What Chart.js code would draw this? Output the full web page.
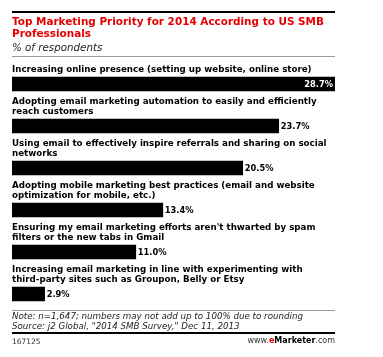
<!DOCTYPE html>
<html><head><meta charset="utf-8">
<script src="https://cdn.jsdelivr.net/npm/chart.js@4/dist/chart.umd.min.js"></script>
<style>
html,body{margin:0;padding:0;background:#fff;}
#wrap{position:relative;width:383px;height:357px;overflow:hidden;font-family:"DejaVu Sans",sans-serif;}
#c{position:absolute;left:0;top:0;}
.rule{position:absolute;left:12px;width:323px;}
.t{position:absolute;left:12px;white-space:nowrap;}
</style></head><body>
<div id="wrap">
<canvas id="c" width="383" height="357"></canvas>
<div class="rule" style="top:11px;height:2px;background:#000"></div>
<div class="t" style="top:16px;font-weight:bold;font-size:10.45px;line-height:11.5px;color:#e60000">Top Marketing Priority for 2014 According to US SMB<br>Professionals</div>
<div class="t" style="top:41px;font-style:italic;font-size:10.3px;line-height:12px;color:#222">% of respondents</div>
<div class="rule" style="top:56px;height:1px;background:#999"></div>
<div class="rule" style="top:310px;height:1px;background:#999"></div>
<div class="t" style="top:312px;font-style:italic;font-size:8.7px;line-height:9.5px;color:#222">Note: n=1,647; numbers may not add up to 100% due to rounding<br>Source: j2 Global, "2014 SMB Survey," Dec 11, 2013</div>
<div class="rule" style="top:332px;height:2px;background:#000"></div>
<div class="t" style="top:337px;font-size:7.5px;color:#333">167125</div>
<div style="position:absolute;right:48px;top:336px;font-size:8px;color:#333;white-space:nowrap">www.<b style="color:#e60000">e</b><b style="color:#000">Marketer</b>.com</div>
</div>
<script>
const categories = [
  ["Increasing online presence (setting up website, online store)"],
  ["Adopting email marketing automation to easily and efficiently", "reach customers"],
  ["Using email to effectively inspire referrals and sharing on social", "networks"],
  ["Adopting mobile marketing best practices (email and website", "optimization for mobile, etc.)"],
  ["Ensuring my email marketing efforts aren't thwarted by spam", "filters or the new tabs in Gmail"],
  ["Increasing email marketing in line with experimenting with", "third-party sites such as Groupon, Belly or Etsy"]
];
const values = [28.7, 23.7, 20.5, 13.4, 11.0, 2.9];
const valueLabels = values.map(v => v.toFixed(1) + "%");

const displayLabels = categories.map(l => l.length === 1 ? [""].concat(l) : l);

const valueLabelPlugin = {
  id: 'valueLabels',
  afterDatasetsDraw(chart) {
    const ctx = chart.ctx;
    const meta = chart.getDatasetMeta(0);
    const area = chart.chartArea;
    ctx.save();
    ctx.font = 'bold 8.3px "DejaVu Sans"';
    ctx.textBaseline = 'middle';
    meta.data.forEach((bar, i) => {
      const txt = valueLabels[i];
      const w = ctx.measureText(txt).width;
      if (bar.x + 3 + w > area.right) {
        ctx.fillStyle = '#fff';
        ctx.textAlign = 'right';
        ctx.fillText(txt, bar.x - 2, bar.y + 0.5);
      } else {
        ctx.fillStyle = '#000';
        ctx.textAlign = 'left';
        ctx.fillText(txt, bar.x + 2, bar.y + 0.5);
      }
    });
    ctx.restore();
  }
};

new Chart(document.getElementById('c'), {
  type: 'bar',
  data: {
    labels: displayLabels,
    datasets: [{
      data: values,
      backgroundColor: '#000',
      borderWidth: 0,
      barThickness: 14
    }]
  },
  options: {
    indexAxis: 'y',
    responsive: false,
    animation: false,
    layout: { padding: { left: 12, right: 48, top: 63, bottom: 42 } },
    plugins: { legend: { display: false }, tooltip: { enabled: false }, title: { display: false } },
    scales: {
      x: { display: false, min: 0, max: Math.max(...values) },
      y: {
        position: 'left',
        grid: { display: false, drawTicks: false },
        border: { display: false },
        ticks: {
          mirror: true,
          padding: 0,
          labelOffset: -19,
          color: '#000',
          font: { family: '"DejaVu Sans"', weight: 'bold', size: 8.7, lineHeight: 1.15 }
        }
      }
    }
  },
  plugins: [valueLabelPlugin]
});
</script>
</body></html>
